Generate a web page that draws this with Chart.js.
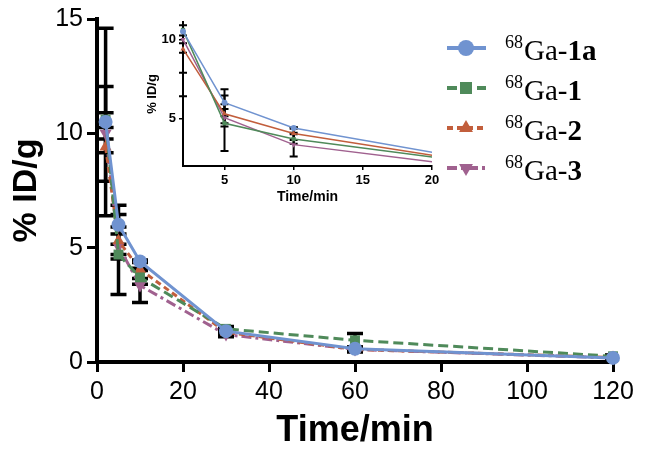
<!DOCTYPE html>
<html>
<head>
<meta charset="utf-8">
<script src="https://cdn.jsdelivr.net/npm/chart.js@4.4.0/dist/chart.umd.min.js"></script>
<style>
  body { margin: 0; background: #fff; }
  #wrap { position: relative; width: 645px; height: 455px; }
  #main { position: absolute; left: 0; top: 0; }
  #inset { position: absolute; left: 140px; top: 0; }
</style>
</head>
<body>
<div id="wrap">
  <canvas id="main" width="645" height="455"></canvas>
  <canvas id="inset" width="310" height="210"></canvas>
</div>
<script>
'use strict';
// time points (min)
const times = [2, 5, 10, 30, 60, 120];

// %ID/g mean values
const ga1a = [10.5, 6.0, 4.4, 1.35, 0.58, 0.18];
const ga1  = [10.6, 4.7, 3.7, 1.45, 0.95, 0.25];
const ga2  = [9.4, 5.3, 4.05, 1.3, 0.55, 0.2];
const ga3  = [10.0, 5.05, 3.35, 1.2, 0.55, 0.18];

// error bars (SD)
const ga1aErr = [4.1, 0.85, 0.05, 0.1, 0.05, 0.05];
const ga1Err  = [1.45, 1.75, 0.3, 0.1, 0.3, 0.05];
const ga2Err  = [1.5, 0.6, 0.4, 0.1, 0.1, 0.1];
const ga3Err  = [0.25, 0.55, 0.75, 0.1, 0.1, 0.1];

// tick labels
const xTicks = [0, 20, 40, 60, 80, 100, 120];
const yTicks = [0, 5, 10, 15];
const insetXTicks = [5, 10, 15, 20];
const insetYTicks = [5, 10];

const seriesNames = ['1a', '1', '2', '3'];
const sans = "'Liberation Sans', Arial, sans-serif";
const serif = "'Liberation Serif', 'Times New Roman', serif";

const styles = [
  { color: '#7093d0', dash: [], point: 'circle' },
  { color: '#4f8a5a', dash: [10, 5], point: 'rect' },
  { color: '#c25e3c', dash: [6, 4], point: 'triangle' },
  { color: '#a0618f', dash: [10, 4, 3, 4], point: 'down' }
];

function buildDatasets(big) {
  const vals = [ga1a, ga1, ga2, ga3];
  const errs = [ga1aErr, ga1Err, ga2Err, ga3Err];
  return vals.map(function(v, i) {
    const st = styles[i];
    return {
      label: '68Ga-' + seriesNames[i],
      data: times.map(function(t, k) { return { x: t, y: v[k] }; }),
      errors: errs[i],
      borderColor: st.color,
      backgroundColor: st.color,
      borderWidth: big ? 3 : 1.5,
      borderDash: big ? st.dash : [],
      pointStyle: st.point === 'down' ? 'triangle' : st.point,
      rotation: st.point === 'down' ? 180 : 0,
      pointRadius: big ? 7 : 3,
      pointBorderWidth: 0,
      tension: 0,
      clip: big ? false : { left: 6, top: 2, right: 0, bottom: 0 }
    };
  });
}

// error bar plugin, drawn through the chart scales
function errorBars(lineW, cap) {
  return {
    id: 'errorBars',
    beforeDatasetsDraw(chart) {
      const ctx = chart.ctx;
      const xs = chart.scales.x, ys = chart.scales.y;
      const area = chart.chartArea;
      ctx.save();
      ctx.beginPath();
      ctx.rect(area.left - 10, area.top - 1, area.right - area.left + 10, area.bottom - area.top + 1);
      ctx.clip();
      ctx.strokeStyle = '#000';
      ctx.lineWidth = lineW;
      chart.data.datasets.forEach(function(ds) {
        ds.data.forEach(function(p, k) {
          if (p.x > xs.max) return;
          const e = ds.errors[k];
          const px = xs.getPixelForValue(p.x);
          const yTop = ys.getPixelForValue(p.y + e);
          const yBot = ys.getPixelForValue(p.y - e);
          ctx.beginPath();
          ctx.moveTo(px, yTop); ctx.lineTo(px, yBot);
          ctx.moveTo(px - cap, yTop); ctx.lineTo(px + cap, yTop);
          ctx.moveTo(px - cap, yBot); ctx.lineTo(px + cap, yBot);
          ctx.stroke();
        });
      });
      ctx.restore();
    }
  };
}

function marker(ctx, kind, x, y, r) {
  ctx.beginPath();
  if (kind === 'circle') {
    ctx.arc(x, y, r, 0, Math.PI * 2);
  } else if (kind === 'rect') {
    ctx.rect(x - r * 0.75, y - r * 0.75, r * 1.5, r * 1.5);
  } else if (kind === 'triangle') {
    ctx.moveTo(x, y - r); ctx.lineTo(x + r * 0.87, y + r * 0.5); ctx.lineTo(x - r * 0.87, y + r * 0.5);
  } else {
    ctx.moveTo(x, y + r); ctx.lineTo(x + r * 0.87, y - r * 0.5); ctx.lineTo(x - r * 0.87, y - r * 0.5);
  }
  ctx.closePath();
  ctx.fill();
}

// legend with superscript mass number and bold compound number
const legendPlugin = {
  id: 'gaLegend',
  afterDraw(chart) {
    const ctx = chart.ctx;
    ctx.save();
    styles.forEach(function(st, i) {
      const y = 48 + i * 40;
      ctx.strokeStyle = st.color;
      ctx.fillStyle = st.color;
      ctx.lineWidth = 4;
      ctx.setLineDash(st.dash);
      ctx.beginPath();
      ctx.moveTo(447, y); ctx.lineTo(486, y);
      ctx.stroke();
      ctx.setLineDash([]);
      marker(ctx, st.point, 466, y, 8);

      ctx.fillStyle = '#000';
      ctx.textBaseline = 'alphabetic';
      ctx.textAlign = 'left';
      let x = 505;
      ctx.font = '18px ' + serif;
      ctx.fillText('68', x, y);
      x += ctx.measureText('68').width + 1;
      ctx.font = '29px ' + serif;
      ctx.fillText('Ga-', x, y + 12);
      x += ctx.measureText('Ga-').width;
      ctx.font = 'bold 29px ' + serif;
      ctx.fillText(seriesNames[i], x, y + 12);
    });
    ctx.restore();
  }
};

function axis(opts) {
  return {
    type: 'linear',
    min: opts.min,
    max: opts.max,
    afterFit(s) { if (opts.width) s.width = opts.width; if (opts.height) s.height = opts.height; },
    afterBuildTicks(s) { s.ticks = opts.ticks.map(function(v) { return { value: v }; }); },
    grid: { display: true, drawOnChartArea: false, drawTicks: true, tickLength: opts.tickLen, lineWidth: opts.tickW, color: '#000' },
    border: { display: true, color: '#000', width: opts.borderW },
    ticks: { color: '#000', font: { family: sans, size: opts.tickSize, weight: opts.tickWeight }, padding: opts.pad, maxRotation: 0, autoSkip: false },
    title: { display: true, text: opts.title, color: '#000', font: { family: sans, size: opts.titleSize, weight: 'bold' }, padding: opts.titlePad }
  };
}

new Chart(document.getElementById('main').getContext('2d'), {
  type: 'line',
  data: { datasets: buildDatasets(true) },
  options: {
    responsive: false,
    animation: false,
    layout: { padding: { top: 17, right: 32, left: 0, bottom: 0 } },
    plugins: { legend: { display: false }, tooltip: { enabled: false } },
    scales: {
      x: axis({ min: 0, max: 120, height: 93, ticks: xTicks, tickLen: 10, tickW: 3, borderW: 4,
        tickSize: 25, pad: 5, title: 'Time/min', titleSize: 36, titlePad: { top: 0, bottom: 2 } }),
      y: axis({ min: 0, max: 15, width: 97, ticks: yTicks, tickLen: 10, tickW: 3, borderW: 4,
        tickSize: 25, pad: 4, title: '% ID/g', titleSize: 34, titlePad: { top: 6, bottom: 0 } })
    }
  },
  plugins: [errorBars(3.5, 8), legendPlugin]
});

new Chart(document.getElementById('inset').getContext('2d'), {
  type: 'line',
  data: { datasets: buildDatasets(false) },
  options: {
    responsive: false,
    animation: false,
    layout: { padding: { top: 22, right: 18, left: 0, bottom: 0 } },
    plugins: { legend: { display: false }, tooltip: { enabled: false } },
    scales: {
      x: axis({ min: 2, max: 20, height: 44, ticks: insetXTicks, tickLen: 4, tickW: 1.5, borderW: 2,
        tickSize: 13, tickWeight: 'bold', pad: 3, title: 'Time/min', titleSize: 14, titlePad: { top: 0, bottom: 4 } }),
      y: axis({ min: 2, max: 11.1, width: 43, ticks: insetYTicks, tickLen: 4, tickW: 1.5, borderW: 2,
        tickSize: 13, tickWeight: 'bold', pad: 3, title: '% ID/g', titleSize: 13, titlePad: { top: 5, bottom: 0 } })
    }
  },
  plugins: [errorBars(2, 4)]
});
</script>
</body>
</html>
